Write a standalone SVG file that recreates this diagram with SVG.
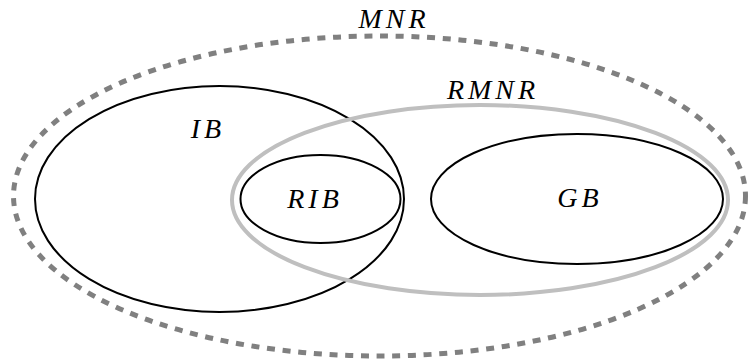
<svg xmlns="http://www.w3.org/2000/svg" width="751" height="363" viewBox="0 0 751 363">
<style>
.set{fill:none;stroke:#000;stroke-width:2}
.outer{fill:none;stroke:#808080;stroke-width:5;stroke-dasharray:8 7.7}
.rm{fill:none;stroke:#bfbfbf;stroke-width:4}
.lbl{font-family:"Liberation Serif","DejaVu Serif",serif;font-style:italic;font-size:28px;fill:#000;text-anchor:middle;letter-spacing:4px}
</style>
<rect width="751" height="363" fill="#fff"/>
<g id="MNR">
<ellipse class="outer" cx="379.5" cy="196" rx="366" ry="160"/>
<text class="lbl" x="394" y="28">MNR</text>
</g>
<g id="IB">
<ellipse class="set" cx="219.5" cy="199" rx="184.5" ry="113"/>
<text class="lbl" x="208" y="138">IB</text>
</g>
<g id="RMNR">
<ellipse class="rm" cx="480" cy="200" rx="248" ry="95"/>
<text class="lbl" x="493" y="99">RMNR</text>
</g>
<g id="RIB">
<ellipse class="set" cx="320.5" cy="199" rx="80" ry="44"/>
<text class="lbl" x="315" y="208">RIB</text>
</g>
<g id="GB">
<ellipse class="set" cx="577" cy="199" rx="146" ry="65"/>
<text class="lbl" x="580" y="207">GB</text>
</g>
<g id="connectors"/>
</svg>
